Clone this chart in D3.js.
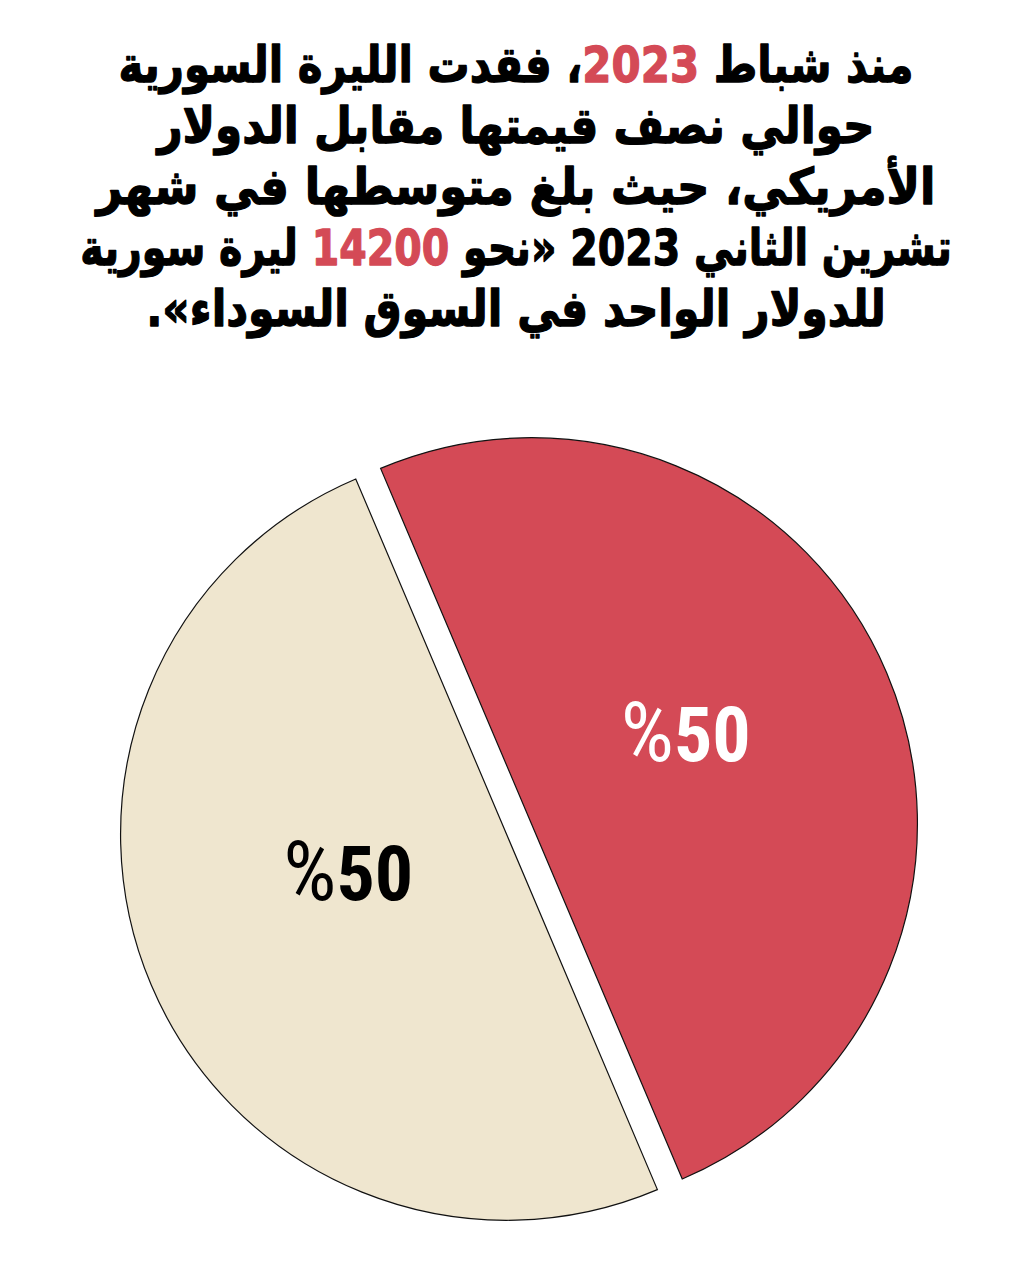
<!DOCTYPE html>
<html><head><meta charset="utf-8">
<script src="https://cdn.jsdelivr.net/npm/d3@7"></script>
<style>html,body{margin:0;padding:0;background:#fff;}</style>
</head><body>
<svg id="c" width="1024" height="1273"></svg>
<script>
const titleLines = [
  [["منذ شباط ",0],["2023",1],["، فقدت الليرة السورية",0]],
  [["حوالي نصف قيمتها مقابل الدولار",0]],
  [["الأمريكي، حيث بلغ متوسطها في شهر",0]],
  [["تشرين الثاني 2023 «نحو ",0],["14200",1],[" ليرة سورية",0]],
  [["للدولار الواحد في السوق السوداء».",0]]
];
const titleWidths = [795, 720, 842, 872, 740];
const categories = ["خسارة", "متبقي"];
const values = [50, 50];
const labels = ["%50", "%50"];
const colors = ["#d44a56", "#efe6cf"];
const labelColors = ["#ffffff", "#000000"];

const svg = d3.select("#c");

// Title
const tg = svg.append("g");
titleLines.forEach((parts, i) => {
  const g = tg.append("g").attr("transform", `translate(516,${82 + i*61})`);
  const t = g.append("text")
    .attr("text-anchor", "middle")
    .attr("direction", "rtl")
    .attr("font-family", "DejaVu Sans")
    .attr("font-weight", "bold")
    .attr("font-size", 50)
    .attr("stroke-width", 1.3)
    .attr("stroke-linejoin", "round");
  parts.forEach(p => t.append("tspan").text(p[0])
    .attr("fill", p[1] ? "#d44a56" : "#000")
    .attr("stroke", p[1] ? "#d44a56" : "#000"));
  const w = t.node().getBBox().width;
  const s = titleWidths[i] / w;
  t.attr("transform", `scale(${s},1.0)`);
});

// Pie
const cx = 519, cy = 829, R = 386, offset = 13.5;
const start = -23 * Math.PI / 180;
const pie = d3.pie().sort(null).startAngle(start).endAngle(start + 2*Math.PI);
const arcs = pie(values);
const arc = d3.arc().innerRadius(0).outerRadius(R);
const labelArc = d3.arc().innerRadius(172).outerRadius(172);

const pg = svg.append("g").attr("transform", `translate(${cx},${cy})`);
const slices = pg.selectAll("g.s").data(arcs).join("g").attr("class","s")
  .attr("transform", d => {
    const a = (d.startAngle + d.endAngle)/2;
    return `translate(${Math.sin(a)*offset},${-Math.cos(a)*offset})`;
  });
slices.append("path").attr("d", arc)
  .attr("fill", (d,i) => colors[i])
  .attr("stroke", "#111").attr("stroke-width", 1.2);
const lt = slices.append("text")
  .attr("transform", (d,i) => { const c = labelArc.centroid(d); return `translate(${c[0] - (i===0?4:0)},${c[1] + (i===0?4:-1)})`; })
  .attr("text-anchor", "middle")
  .attr("direction", "ltr")
  .attr("font-family", "Liberation Sans Narrow, Arial Narrow, Roboto Condensed, Liberation Sans")
  .attr("font-size", 76)
  .attr("fill", (d,i) => labelColors[i]);
lt.append("tspan").attr("font-weight", "normal").attr("font-size", 84).text((d,i) => labels[i].slice(0,1));
lt.append("tspan").attr("font-weight", "bold").text((d,i) => labels[i].slice(1));
</script>
</body></html>
